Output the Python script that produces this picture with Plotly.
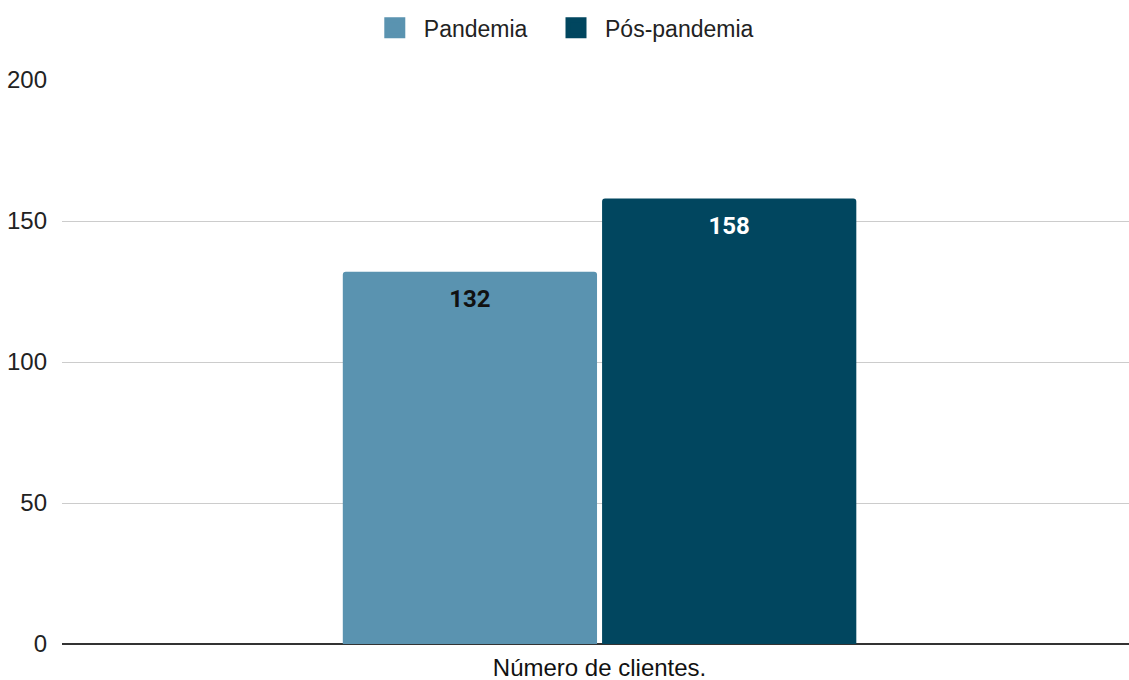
import plotly.graph_objects as go

categories = ["Número de clientes."]
series_names = ["Pandemia", "Pós-pandemia"]
pandemia = [132]
pos_pandemia = [158]
colors = ["#5a93b0", "#01465f"]
label_colors = ["#111111", "#ffffff"]
y_ticks = [0, 50, 100, 150, 200]

legend_ids = ["legend", "legend2"]

fig = go.Figure()
for name, vals, col, lc, lg in zip(series_names, [pandemia, pos_pandemia], colors,
                                   label_colors, legend_ids):
    fig.add_trace(go.Bar(
        name=name, x=categories, y=vals,
        marker=dict(color=col, line=dict(width=0)),
        text=vals, texttemplate="<span style='font-size:1px'> </span><br>%{y}",
        textposition="inside", insidetextanchor="end",
        textangle=0,
        textfont=dict(family="Roboto", size=24, color=lc, weight="bold"),
        cliponaxis=False, showlegend=False,
    ))
    # legend entry with a square swatch
    fig.add_trace(go.Scatter(
        name=name, x=[None], y=[None], mode="markers",
        marker=dict(symbol="square", size=16, color=col, line=dict(color=col, width=5)),
        showlegend=True, legend=lg,
    ))

legend_style = dict(orientation="h", xref="container", xanchor="left",
                    y=0.959, yanchor="middle", yref="container",
                    font=dict(size=23, color="#222222"), itemwidth=48)

fig.update_layout(
    width=1129, height=680,
    barmode="group", bargap=0.514, bargroupgap=0.0195,
    barcornerradius=3,
    plot_bgcolor="white", paper_bgcolor="white",
    margin=dict(l=62, r=0, t=80, b=36),
    font=dict(family="Liberation Sans, Arial", size=23, color="#222222"),
    legend=dict(x=0.324, **legend_style),
    legend2=dict(x=0.4845, **legend_style),
    showlegend=True,
)
fig.update_yaxes(range=[0, 200], tickvals=y_ticks, showgrid=True, gridcolor="#cccccc",
                 gridwidth=1, zeroline=True, zerolinecolor="#333333", zerolinewidth=1.5,
                 ticks="", ticklabelstandoff=14, tickfont=dict(size=24, color="#222222"),
                 showline=False, automargin=False)
fig.update_xaxes(showline=False, ticks="", range=[-0.5038, 0.4962], automargin=False,
                 ticklabelstandoff=7, tickfont=dict(size=24, color="#111111"))

fig.write_html("out.html", config={"displayModeBar": False},
               post_script="document.body.style.margin='0';document.body.style.overflow='hidden';")
